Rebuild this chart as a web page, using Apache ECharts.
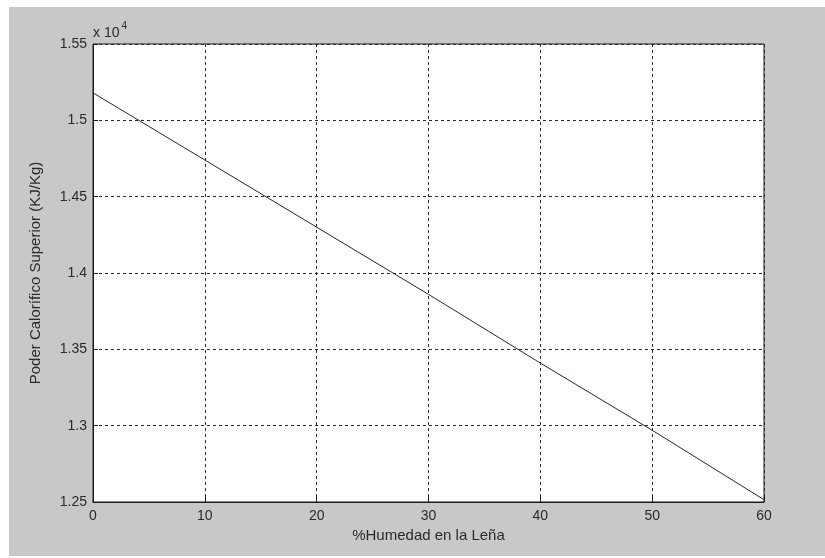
<!DOCTYPE html>
<html>
<head>
<meta charset="UTF-8" />
<title>Poder Calorífico vs Humedad</title>
<script src="https://cdn.jsdelivr.net/npm/echarts@6/dist/echarts.min.js"></script>
<style>
  html,body{margin:0;padding:0;width:825px;height:558px;background:#fff;overflow:hidden;}
  #chart{position:absolute;left:9px;top:7px;width:816px;height:549px;}
</style>
</head>
<body>
<div id="chart"></div>
<script>
// % humedad en la leña
const humedad = [0, 10, 20, 30, 40, 50, 60];
// poder calorífico superior (KJ/Kg)
const poder = [15180, 14740, 14300, 13860, 13410, 12970, 12515];
const yTicks = ['1.25', '1.3', '1.35', '1.4', '1.45', '1.5', '1.55'];

const font = 'Arial, "Liberation Sans", sans-serif';
const chart = echarts.init(document.getElementById('chart'));
chart.setOption({
  backgroundColor: '#c8c8c8',
  animation: false,
  grid: {
    left: 84, top: 37, width: 671, height: 458,
    show: true, backgroundColor: '#fff', borderColor: '#1a1a1a', borderWidth: 1
  },
  xAxis: {
    type: 'value', min: 0, max: 60, interval: 10,
    name: '%Humedad en la Leña', nameLocation: 'middle', nameGap: 23,
    nameTextStyle: { fontFamily: font, fontSize: 15, color: '#2a2a2a' },
    axisLine: { show: true, lineStyle: { color: '#1a1a1a' } },
    axisTick: { inside: true, length: 5, lineStyle: { color: '#1a1a1a' } },
    axisLabel: { fontFamily: font, fontSize: 14, color: '#2a2a2a', margin: 7 },
    splitLine: { show: true, lineStyle: { color: '#2a2a2a', type: [3, 3], width: 1 } }
  },
  yAxis: {
    type: 'value', min: 12500, max: 15500, interval: 500,
    name: 'Poder Calorífico Superior (KJ/Kg)', nameLocation: 'middle', nameGap: 50,
    nameTextStyle: { fontFamily: font, fontSize: 15, color: '#2a2a2a' },
    axisLine: { show: true, lineStyle: { color: '#1a1a1a' } },
    axisTick: { inside: true, length: 5, lineStyle: { color: '#1a1a1a' } },
    axisLabel: {
      fontFamily: font, fontSize: 14, color: '#2a2a2a', margin: 6,
      formatter: v => yTicks[Math.round((v - 12500) / 500)]
    },
    splitLine: { show: true, lineStyle: { color: '#2a2a2a', type: [3, 3], width: 1 } }
  },
  graphic: [{
    type: 'text', left: 84, top: 14,
    style: {
      text: '{a|x 10}{b|4}',
      rich: {
        a: { fontFamily: font, fontSize: 14, fill: '#2a2a2a', verticalAlign: 'bottom' },
        b: { fontFamily: font, fontSize: 10, fill: '#2a2a2a', verticalAlign: 'top', padding: [0, 0, 9, 2] }
      }
    }
  }],
  series: [{
    type: 'line',
    data: humedad.map((h, i) => [h, poder[i]]),
    showSymbol: false,
    lineStyle: { color: '#1c2a3a', width: 1 }
  }]
});
</script>
</body>
</html>
